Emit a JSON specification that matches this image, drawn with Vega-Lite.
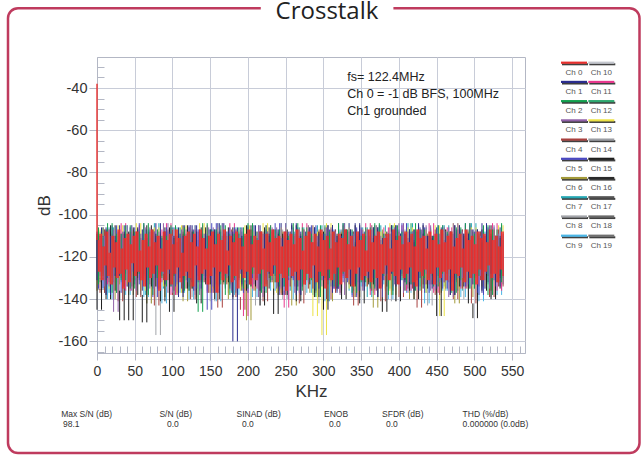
{
"$schema": "https://vega.github.io/schema/vega-lite/v6.json",
"width": 428, "height": 296,
"autosize": {"type": "none"},
"padding": {"left": 97, "top": 57, "right": 119, "bottom": 103},
"background": "white",
"config": {"view": {"stroke": "#b3b7c4", "strokeWidth": 1}, "font": "Liberation Sans"},
"datasets": {
"channels": [{"ch":"Ch 0"},{"ch":"Ch 1"},{"ch":"Ch 2"},{"ch":"Ch 3"},{"ch":"Ch 4"},{"ch":"Ch 5"},{"ch":"Ch 6"},{"ch":"Ch 7"},{"ch":"Ch 8"},{"ch":"Ch 9"},{"ch":"Ch 10"},{"ch":"Ch 11"},{"ch":"Ch 12"},{"ch":"Ch 13"},{"ch":"Ch 14"},{"ch":"Ch 15"},{"ch":"Ch 16"},{"ch":"Ch 17"},{"ch":"Ch 18"},{"ch":"Ch 19"}],
"red": [{"x":[0,2,4,6,8,10,12,14,16,18,20,22,24,26,28,30,32,34,36,38,40,42,44,46,48,50,52,54,56,58,60,62,64,66,68,70,72,74,76,78,80,82,84,86,88,90,92,94,96,98,100,102,104,106,108,110,112,114,116,118,120,122,124,126,128,130,132,134,136,138,140,142,144,146,148,150,152,154,156,158,160,162,164,166,168,170,172,174,176,178,180,182,184,186,188,190,192,194,196,198,200,202,204,206,208,210,212,214,216,218,220,222,224,226,228,230,232,234,236,238,240,242,244,246,248,250,252,254,256,258,260,262,264,266,268,270,272,274,276,278,280,282,284,286,288,290,292,294,296,298,300,302,304,306,308,310,312,314,316,318,320,322,324,326,328,330,332,334,336,338,340,342,344,346,348,350,352,354,356,358,360,362,364,366,368,370,372,374,376,378,380,382,384,386,388,390,392,394,396,398,400,402,404,406,408,410,412,414,416,418,420,422,424,426,428,430,432,434,436,438,440,442,444,446,448,450,452,454,456,458,460,462,464,466,468,470,472,474,476,478,480,482,484,486,488,490,492,494,496,498,500,502,504,506,508,510,512,514,516,518,520,522,524,526,528,530,532,534,536,538,540],
"Ch 0":[-38,
-112,-127,-109,-131,-115,-124,-108,-129,-118,-133,
-110,-125,-113,-130,-107,-128,-116,-135,-111,-126,
-109,-132,-114,-123,-110,-129,-108,-127,-117,-131,
-112,-134,-109,-125,-115,-130,-107,-128,-113,-124,
-110,-136,-116,-127,-108,-131,-112,-126,-109,-133,
-114,-128,-107,-125,-111,-132,-118,-129,-110,-127,
-108,-130,-113,-134,-109,-124,-115,-131,-107,-128,
-111,-126,-116,-133,-110,-129,-108,-125,-114,-137,
-109,-127,-112,-131,-107,-128,-117,-124,-110,-132,
-113,-129,-108,-135,-111,-126,-115,-130,-109,-127,
-107,-133,-114,-125,-110,-131,-112,-128,-108,-126,
-116,-134,-109,-127,-113,-129,-107,-124,-111,-132,
-110,-128,-115,-130,-108,-136,-112,-125,-109,-129,
-114,-127,-107,-131,-111,-126,-117,-133,-110,-128,
-108,-130,-113,-124,-109,-132,-115,-127,-107,-129,
-112,-135,-110,-126,-116,-131,-108,-128,-113,-125,
-109,-133,-111,-127,-107,-130,-114,-126,-110,-134,
-115,-128,-108,-125,-112,-131,-109,-129,-117,-127,
-107,-132,-113,-126,-110,-130,-108,-135,-114,-128,
-111,-124,-109,-131,-116,-127,-107,-129,-112,-133,
-110,-126,-114,-130,-108,-128,-113,-125,-109,-132,
-115,-134,-107,-127,-111,-129,-110,-126,-116,-131,
-108,-128,-112,-133,-109,-125,-114,-130,-107,-127,
-113,-131,-110,-126,-108,-136,-115,-128,-111,-129,
-109,-125,-116,-132,-107,-127,-112,-130,-110,-128,
-114,-133,-108,-126,-111,-131,-109,-127,-113,-124,
-107,-130,-112,-128,-110,-132,-115,-126,-108,-129]}],
"gA": [{"x":[0,6,12,18,24,30,36,42,48,54,60,66,72,78,84,90,96,102,108,114,120,126,132,138,144,150,156,162,168,174,180,186,192,198,204,210,216,222,228,234,240,246,252,258,264,270,276,282,288,294,300,306,312,318,324,330,336,342,348,354,360,366,372,378,384,390,396,402,408,414,420,426,432,438,444,450,456,462,468,474,480,486,492,498,504,510,516,522,528,534,540],
"Ch 1":[-108,-131,-106,-138,-110,-129,-105,-134,-109,-127,-107,-136,-111,-130,-104,-133,-108,-128,-106,-139,-110,-132,-105,-135,-109,-130,-107,-137,-104,-129,-108,-160,-106,-133,-110,-131,-105,-136,-109,-128,-107,-134,-111,-130,-104,-138,-108,-127,-106,-135,-109,-131,-105,-137,-110,-129,-107,-133,-104,-136,-108,-130,-106,-139,-111,-128,-105,-134,-109,-132,-107,-136,-104,-129,-110,-135,-106,-131,-108,-138,-105,-130,-109,-133,-107,-137,-104,-128,-110,-134,-106],
"Ch 15":[-109,-145,-107,-140,-105,-136,-150,-108,-150,-106,-138,-151,-105,-134,-109,-141,-106,-146,-110,-137,-105,-135,-108,-142,-106,-133,-107,-140,-109,-132,-106,-139,-110,-136,-105,-134,-108,-143,-106,-135,-147,-109,-138,-107,-105,-141,-110,-133,-106,-139,-108,-145,-105,-135,-109,-140,-107,-134,-105,-142,-110,-133,-106,-139,-146,-108,-105,-141,-109,-136,-107,-140,-105,-135,-110,-133,-148,-107,-108,-138,-105,-134,-109,-142,-149,-107,-136,-105,-140,-110,-135],
"Ch 8":[-131,-110,-138,-108,-129,-113,-140,-109,-134,-112,-128,-107,-142,-111,-157,-109,-133,-114,-136,-108,-130,-112,-139,-110,-132,-107,-141,-113,-129,-109,-137,-111,-134,-108,-130,-114,-143,-110,-128,-112,-135,-107,-140,-109,-131,-113,-138,-111,-129,-108,-142,-110,-133,-112,-136,-107,-130,-114,-139,-109,-128,-111,-137,-108,-134,-113,-141,-110,-131,-107,-138,-112,-129,-109,-143,-111,-132,-108,-136,-114,-130,-110,-140,-107,-133,-112,-135,-109,-139,-111,-129],
"Ch 6":[-136,-111,-131,-108,-140,-112,-133,-109,-138,-107,-130,-113,-142,-110,-134,-108,-139,-111,-129,-109,-141,-107,-135,-112,-131,-110,-137,-108,-133,-113,-140,-109,-132,-111,-150,-107,-136,-112,-130,-110,-138,-108,-134,-113,-143,-109,-131,-111,-137,-107,-133,-112,-141,-110,-135,-108,-130,-113,-139,-109,-132,-111,-144,-107,-134,-112,-138,-110,-131,-108,-140,-113,-133,-109,-129,-111,-137,-107,-135,-112,-142,-110,-131,-108,-139,-113,-134,-109,-136,-111,-130]}],
"gB": [{"x":[2,8,14,20,26,32,38,44,50,56,62,68,74,80,86,92,98,104,110,116,122,128,134,140,146,152,158,164,170,176,182,188,194,200,206,212,218,224,230,236,242,248,254,260,266,272,278,284,290,296,302,308,314,320,326,332,338,344,350,356,362,368,374,380,386,392,398,404,410,416,422,428,434,440,446,452,458,464,470,476,482,488,494,500,506,512,518,524,530,536,542],
"Ch 2":[-133,-106,-129,-104,-137,-109,-131,-105,-135,-108,-128,-104,-138,-107,-130,-110,-134,-105,-127,-106,-136,-108,-131,-146,-104,-129,-107,-133,-105,-138,-109,-130,-106,-135,-104,-128,-108,-137,-105,-132,-107,-134,-110,-129,-104,-136,-106,-131,-109,-139,-105,-130,-108,-134,-104,-128,-107,-137,-110,-132,-106,-135,-104,-129,-109,-138,-105,-131,-108,-133,-104,-136,-107,-130,-110,-134,-105,-128,-108,-137,-106,-131,-104,-135,-109,-129,-105,-138,-107,-132,-104],
"Ch 5":[-107,-135,-110,-130,-105,-137,-109,-128,-106,-133,-104,-131,-108,-139,-111,-129,-106,-134,-109,-130,-105,-136,-107,-132,-110,-145,-104,-128,-108,-135,-106,-131,-109,-137,-105,-130,-111,-133,-107,-129,-104,-138,-108,-131,-106,-134,-110,-128,-105,-136,-109,-130,-107,-135,-104,-132,-108,-139,-106,-129,-110,-134,-105,-131,-109,-136,-107,-128,-104,-133,-108,-130,-106,-137,-110,-129,-105,-135,-109,-131,-107,-134,-104,-130,-108,-138,-106,-132,-110,-128,-105],
"Ch 11":[-110,-128,-106,-133,-109,-130,-104,-136,-108,-131,-105,-129,-110,-135,-107,-132,-104,-138,-109,-130,-106,-134,-108,-129,-105,-137,-110,-131,-107,-133,-104,-130,-109,-148,-106,-135,-108,-129,-105,-132,-110,-136,-144,-130,-107,-134,-104,-128,-109,-137,-106,-131,-108,-135,-105,-129,-110,-133,-107,-130,-104,-138,-109,-131,-106,-134,-108,-129,-105,-136,-110,-130,-107,-133,-104,-137,-109,-128,-106,-132,-108,-135,-105,-130,-110,-134,-107,-129,-104,-136,-109],
"Ch 9":[-108,-135,-111,-140,-106,-132,-110,-138,-112,-131,-109,-139,-107,-134,-111,-142,-108,-133,-110,-137,-106,-140,-112,-131,-109,-136,-107,-141,-111,-134,-110,-138,-108,-132,-106,-139,-112,-130,-109,-136,-107,-134,-111,-140,-110,-131,-108,-137,-106,-133,-112,-141,-109,-135,-107,-130,-111,-138,-108,-134,-110,-136,-106,-133,-112,-140,-109,-131,-107,-137,-111,-134,-108,-142,-110,-132,-106,-136,-112,-130,-109,-139,-107,-135,-111,-141,-108,-133,-110,-138,-106]}],
"gC": [{"x":[4,10,16,22,28,34,40,46,52,58,64,70,76,82,88,94,100,106,112,118,124,130,136,142,148,154,160,166,172,178,184,190,196,202,208,214,220,226,232,238,244,250,256,262,268,274,280,286,292,298,304,310,316,322,328,334,340,346,352,358,364,370,376,382,388,394,400,406,412,418,424,430,436,442,448,454,460,466,472,478,484,490,496,502,508,514,520,526,532,538,544],
"Ch 3":[-129,-110,-134,-107,-146,-108,-131,-105,-136,-109,-130,-106,-135,-108,-128,-104,-137,-110,-132,-107,-129,-105,-138,-109,-131,-106,-134,-104,-130,-108,-136,-107,-128,-110,-133,-105,-139,-108,-131,-106,-135,-104,-129,-109,-137,-107,-132,-105,-130,-110,-134,-106,-128,-108,-138,-104,-131,-109,-136,-107,-130,-105,-135,-110,-129,-106,-133,-104,-137,-108,-131,-107,-128,-105,-136,-109,-132,-106,-139,-104,-130,-108,-134,-107,-129,-110,-135,-105,-131,-109,-133],
"Ch 4":[-110,-137,-107,-132,-112,-141,-109,-134,-108,-139,-111,-133,-108,-143,-110,-131,-107,-138,-113,-135,-109,-140,-107,-132,-111,-137,-108,-144,-110,-133,-107,-139,-145,-131,-112,-136,-109,-141,-108,-132,-111,-138,-108,-134,-110,-142,-107,-135,-113,-131,-109,-140,-107,-137,-111,-133,-108,-143,-110,-134,-107,-136,-112,-141,-109,-131,-108,-139,-111,-135,-108,-144,-110,-133,-107,-138,-112,-132,-109,-140,-107,-135,-111,-142,-108,-131,-110,-139,-107,-134,-112],
"Ch 7":[-132,-108,-137,-106,-129,-110,-134,-105,-131,-109,-138,-107,-130,-104,-135,-108,-128,-106,-133,-110,-131,-105,-136,-109,-129,-107,-134,-104,-130,-108,-137,-106,-132,-110,-128,-105,-135,-109,-131,-107,-129,-104,-136,-108,-133,-106,-130,-110,-138,-105,-131,-109,-134,-107,-128,-104,-136,-108,-132,-106,-139,-110,-130,-105,-135,-109,-129,-107,-133,-104,-131,-108,-137,-106,-130,-110,-134,-105,-128,-109,-136,-107,-132,-104,-129,-108,-135,-106,-131,-110,-130],
"Ch 13":[-131,-107,-135,-110,-128,-105,-133,-108,-130,-104,-136,-109,-129,-106,-134,-110,-131,-107,-137,-105,-130,-108,-133,-104,-128,-109,-135,-106,-132,-110,-129,-107,-136,-105,-131,-108,-134,-104,-130,-109,-137,-106,-129,-110,-133,-107,-131,-105,-148,-108,-157,-104,-132,-109,-130,-106,-135,-110,-128,-107,-134,-105,-131,-108,-136,-104,-129,-109,-133,-106,-130,-110,-137,-107,-131,-105,-148,-108,-129,-104,-135,-109,-132,-106,-130,-110,-134,-107,-128,-105,-133]}]
},
"layer": [
{
"layer": [
{
"data": {"name": "gA"},
"transform": [
{"flatten": ["x","Ch 1","Ch 15","Ch 8","Ch 6"]},
{"fold": ["Ch 8","Ch 6","Ch 15","Ch 1"], "as": ["ch","y"]},
{"window": [{"op": "lead", "field": "y", "as": "y2"}], "groupby": ["ch"], "sort": [{"field": "x", "order": "ascending"}]},
{"filter": "isValid(datum.y2)"}
],
"mark": {"type": "rule", "strokeWidth": 1},
"encoding": {
"x": {"field": "x", "type": "quantitative", "scale": {"domain": [0, 567], "nice": false, "zero": false},
"axis": {"values": [0,10,20,30,40,50,60,70,80,90,100,110,120,130,140,150,160,170,180,190,200,210,220,230,240,250,260,270,280,290,300,310,320,330,340,350,360,370,380,390,400,410,420,430,440,450,460,470,480,490,500,510,520,530,540,550,560],
"tickCount": 200,
"labelExpr": "datum.value % 50 === 0 ? datum.label : ''",
"labelFontSize": 14, "labelColor": "#333", "labelPadding": 4, "labelFlush": false, "labelOverlap": false,
"tickSize": {"condition": {"test": "datum.value % 50 === 0", "value": 7}, "value": -7},
"tickColor": "#b3b7c4", "domainColor": "#b3b7c4", "gridColor": "#c8ccd8",
"gridOpacity": {"condition": {"test": "datum.value % 50 === 0", "value": 1}, "value": 0},
"title": "KHz", "titleFontSize": 17, "titleFontWeight": "normal", "titleColor": "#333", "titlePadding": 5}},
"y": {"field": "y", "type": "quantitative", "scale": {"domain": [-165.5, -25.3], "nice": false, "zero": false},
"axis": {"values": [-165,-160,-155,-150,-145,-140,-135,-130,-125,-120,-115,-110,-105,-100,-95,-90,-85,-80,-75,-70,-65,-60,-55,-50,-45,-40,-35,-30],
"tickCount": 200,
"labelExpr": "datum.value % 20 === 0 ? '' + datum.value : ''",
"labelFontSize": 14.5, "labelColor": "#333", "labelPadding": 2, "labelOverlap": false,
"tickSize": {"condition": {"test": "datum.value % 20 === 0", "value": 8}, "value": -7},
"tickColor": "#b3b7c4", "domainColor": "#b3b7c4", "gridColor": "#c8ccd8",
"gridOpacity": {"condition": {"test": "datum.value % 20 === 0", "value": 1}, "value": 0},
"title": "dB", "titleFontSize": 17, "titleFontWeight": "normal", "titleColor": "#333", "titlePadding": 4}},
"y2": {"field": "y2"},
"color": {"field": "ch", "type": "nominal", "legend": null,
"scale": {"domain": ["Ch 0","Ch 1","Ch 2","Ch 3","Ch 4","Ch 5","Ch 6","Ch 7","Ch 8","Ch 9","Ch 10","Ch 11","Ch 12","Ch 13","Ch 14","Ch 15","Ch 16","Ch 17","Ch 18","Ch 19"],
"range": ["#e8302e","#2b2d8e","#12a04e","#9160a8","#a8403e","#4a48c0","#a39a3a","#25a8b4","#a3a5aa","#4bb6e6","#c4c7ce","#e8388e","#2fa870","#ece245","#9a9ca2","#1e1e1e","#2a2a2a","#555555","#6a6a6a","#707070"]}}
}
},
{
"data": {"name": "gB"},
"transform": [
{"flatten": ["x","Ch 2","Ch 5","Ch 11","Ch 9"]},
{"fold": ["Ch 9","Ch 11","Ch 5","Ch 2"], "as": ["ch","y"]},
{"window": [{"op": "lead", "field": "y", "as": "y2"}], "groupby": ["ch"], "sort": [{"field": "x", "order": "ascending"}]},
{"filter": "isValid(datum.y2)"}
],
"mark": {"type": "rule", "strokeWidth": 1},
"encoding": {"x": {"field": "x", "type": "quantitative"}, "y": {"field": "y", "type": "quantitative"}, "y2": {"field": "y2"}, "color": {"field": "ch", "type": "nominal", "legend": null}}
},
{
"data": {"name": "gC"},
"transform": [
{"flatten": ["x","Ch 3","Ch 4","Ch 7","Ch 13"]},
{"fold": ["Ch 7","Ch 13","Ch 4","Ch 3"], "as": ["ch","y"]},
{"window": [{"op": "lead", "field": "y", "as": "y2"}], "groupby": ["ch"], "sort": [{"field": "x", "order": "ascending"}]},
{"filter": "isValid(datum.y2)"}
],
"mark": {"type": "rule", "strokeWidth": 1},
"encoding": {"x": {"field": "x", "type": "quantitative"}, "y": {"field": "y", "type": "quantitative"}, "y2": {"field": "y2"}, "color": {"field": "ch", "type": "nominal", "legend": null}}
},
{
"data": {"name": "red"},
"transform": [
{"flatten": ["x","Ch 0"]},
{"fold": ["Ch 0"], "as": ["ch","y"]},
{"window": [{"op": "lead", "field": "y", "as": "y2"}], "groupby": ["ch"], "sort": [{"field": "x", "order": "ascending"}]},
{"filter": "isValid(datum.y2)"}
],
"mark": {"type": "rule", "strokeWidth": 1.4},
"encoding": {"x": {"field": "x", "type": "quantitative"}, "y": {"field": "y", "type": "quantitative"}, "y2": {"field": "y2"}, "color": {"field": "ch", "type": "nominal", "legend": null}}
},
{
"data": {"values": [{}]},
"mark": {"type": "text", "align": "left", "baseline": "alphabetic", "fontSize": 12.5, "lineHeight": 17, "color": "#222"},
"encoding": {
"x": {"datum": 331.5, "type": "quantitative"},
"y": {"datum": -36.8, "type": "quantitative"},
"text": {"value": ["fs= 122.4MHz", "Ch 0 = -1 dB BFS, 100MHz", "Ch1 grounded"]}
}
}
]
},
{
"data": {"values": [{}]},
"encoding": {
"x": {"datum": 0, "type": "quantitative", "scale": {"domain": [0, 1], "range": [-89, 542.5], "nice": false, "zero": false}, "axis": null},
"y": {"datum": 0, "type": "quantitative", "scale": {"domain": [0, 1], "range": [396, -48.8], "nice": false, "zero": false}, "axis": null}
},
"layer": [
{"mark": {"type": "rect", "filled": false, "stroke": "#bf3b5e", "strokeWidth": 2.5, "cornerRadius": 10},
"encoding": {"x2": {"datum": 1}, "y2": {"datum": 1}}},
{"mark": {"type": "rect", "fill": "white", "strokeWidth": 0},
"encoding": {"x": {"datum": 0.4003, "type": "quantitative"}, "x2": {"datum": 0.6103}, "y": {"datum": 0.985, "type": "quantitative"}, "y2": {"datum": 1.015}}},
{"mark": {"type": "text", "font": "Open Sans", "fontSize": 24, "color": "#222", "align": "center", "baseline": "alphabetic"},
"encoding": {"x": {"datum": 0.5051, "type": "quantitative"}, "y": {"datum": 0.9768, "type": "quantitative"}, "text": {"value": "Crosstalk"}}},
{"mark": {"type": "text", "fontSize": 8.5, "color": "#333", "align": "left", "baseline": "middle"},
"encoding": {"x": {"datum": 0.0842, "type": "quantitative"}, "y": {"datum": 0.0877, "type": "quantitative"}, "text": {"value": "Max S/N (dB)"}}},
{"mark": {"type": "text", "fontSize": 8.5, "color": "#333", "align": "left", "baseline": "middle"},
"encoding": {"x": {"datum": 0.0871, "type": "quantitative"}, "y": {"datum": 0.0652, "type": "quantitative"}, "text": {"value": "98.1"}}},
{"mark": {"type": "text", "fontSize": 8.5, "color": "#333", "align": "left", "baseline": "middle"},
"encoding": {"x": {"datum": 0.2398, "type": "quantitative"}, "y": {"datum": 0.0877, "type": "quantitative"}, "text": {"value": "S/N (dB)"}}},
{"mark": {"type": "text", "fontSize": 8.5, "color": "#333", "align": "left", "baseline": "middle"},
"encoding": {"x": {"datum": 0.2518, "type": "quantitative"}, "y": {"datum": 0.0652, "type": "quantitative"}, "text": {"value": "0.0"}}},
{"mark": {"type": "text", "fontSize": 8.5, "color": "#333", "align": "left", "baseline": "middle"},
"encoding": {"x": {"datum": 0.3618, "type": "quantitative"}, "y": {"datum": 0.0877, "type": "quantitative"}, "text": {"value": "SINAD (dB)"}}},
{"mark": {"type": "text", "fontSize": 8.5, "color": "#333", "align": "left", "baseline": "middle"},
"encoding": {"x": {"datum": 0.3705, "type": "quantitative"}, "y": {"datum": 0.0652, "type": "quantitative"}, "text": {"value": "0.0"}}},
{"mark": {"type": "text", "fontSize": 8.5, "color": "#333", "align": "left", "baseline": "middle"},
"encoding": {"x": {"datum": 0.5004, "type": "quantitative"}, "y": {"datum": 0.0877, "type": "quantitative"}, "text": {"value": "ENOB"}}},
{"mark": {"type": "text", "fontSize": 8.5, "color": "#333", "align": "left", "baseline": "middle"},
"encoding": {"x": {"datum": 0.5083, "type": "quantitative"}, "y": {"datum": 0.0652, "type": "quantitative"}, "text": {"value": "0.0"}}},
{"mark": {"type": "text", "fontSize": 8.5, "color": "#333", "align": "left", "baseline": "middle"},
"encoding": {"x": {"datum": 0.5923, "type": "quantitative"}, "y": {"datum": 0.0877, "type": "quantitative"}, "text": {"value": "SFDR (dB)"}}},
{"mark": {"type": "text", "fontSize": 8.5, "color": "#333", "align": "left", "baseline": "middle"},
"encoding": {"x": {"datum": 0.5986, "type": "quantitative"}, "y": {"datum": 0.0652, "type": "quantitative"}, "text": {"value": "0.0"}}},
{"mark": {"type": "text", "fontSize": 8.5, "color": "#333", "align": "left", "baseline": "middle"},
"encoding": {"x": {"datum": 0.7199, "type": "quantitative"}, "y": {"datum": 0.0877, "type": "quantitative"}, "text": {"value": "THD (%/dB)"}}},
{"mark": {"type": "text", "fontSize": 8.5, "color": "#333", "align": "left", "baseline": "middle"},
"encoding": {"x": {"datum": 0.7199, "type": "quantitative"}, "y": {"datum": 0.0652, "type": "quantitative"}, "text": {"value": "0.000000 (0.0dB)"}}}
]
},
{
"data": {"name": "channels"},
"transform": [
{"calculate": "toNumber(substring(datum.ch, 3))", "as": "n"},
{"calculate": "floor(datum.n / 10)", "as": "col"},
{"calculate": "datum.n % 10", "as": "row"}
],
"encoding": {
"x": {"field": "col", "type": "quantitative", "scale": {"domain": [0, 1], "range": [477, 504.3], "nice": false, "zero": false}, "axis": null},
"y": {"field": "row", "type": "quantitative", "scale": {"domain": [0, 9], "range": [5.7, 178.7], "nice": false, "zero": false}, "axis": null}
},
"layer": [
{"mark": {"type": "rule", "color": "#404040", "strokeWidth": 2, "xOffset": -12, "x2Offset": 14, "yOffset": 1.6},
"encoding": {"x2": {"field": "col"}}},
{"mark": {"type": "rule", "strokeWidth": 2.2, "xOffset": -13, "x2Offset": 13},
"encoding": {"x2": {"field": "col"}, "color": {"field": "ch", "type": "nominal", "legend": null}}},
{"mark": {"type": "text", "fontSize": 8, "color": "#555", "yOffset": 10, "baseline": "middle", "align": "center"},
"encoding": {"text": {"field": "ch"}}}
]
}
],
"resolve": {"scale": {"x": "independent", "y": "independent"}}
}
